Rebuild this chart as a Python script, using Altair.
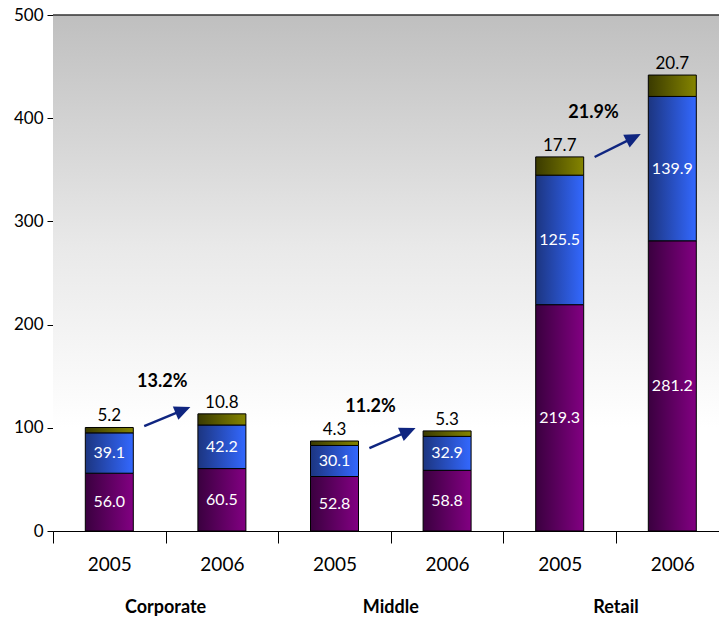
import altair as alt
import pandas as pd
import numpy as np

# ---- data ----
groups = ["Corporate", "Middle", "Retail"]
years = ["2005", "2006"]
purple_vals = [56.0, 60.5, 52.8, 58.8, 219.3, 281.2]
blue_vals = [39.1, 42.2, 30.1, 32.9, 125.5, 139.9]
olive_vals = [5.2, 10.8, 4.3, 5.3, 17.7, 20.7]
growth_labels = ["13.2%", "11.2%", "21.9%"]
# annotation anchors (data units: bar index / value)
growth_label_x = [0.47, 2.32, 4.30]
growth_label_y = [144, 120, 405]
arrow_y_start = [101.7, 80.4, 362.4]
arrow_y_end = [120.2, 99.8, 384.7]

# ---- layout ----
PLOT_W = 666
PLOT_H = 516
SPAN = 675.6          # six bands continue a little past the right edge
FONT = "Lato"

keys = [f"{g} {y}" for g in groups for y in years]
df = pd.DataFrame({
    "key": keys,
    "purple": purple_vals,
    "blue": blue_vals,
    "olive": olive_vals,
})
df["zero"] = 0.0
df["p_top"] = df["purple"]
df["b_top"] = df["purple"] + df["blue"]
df["o_top"] = df["b_top"] + df["olive"]
df["p_mid"] = df["purple"] / 2
df["b_mid"] = df["purple"] + df["blue"] / 2
df["p_txt"] = df["purple"].map(lambda v: f"{v:.1f}")
df["b_txt"] = df["blue"].map(lambda v: f"{v:.1f}")
df["o_txt"] = df["olive"].map(lambda v: f"{v:.1f}")

px_x = SPAN / 6
px_y = PLOT_H / 500
xs = [2 * i + 0.31 for i in range(3)]
xe = [2 * i + 1 - 0.28 for i in range(3)]
dxp = (np.array(xe) - np.array(xs)) * px_x
dyp = (np.array(arrow_y_end) - np.array(arrow_y_start)) * px_y
ang = np.degrees(np.arctan2(dyp, dxp))
length = np.hypot(dxp, dyp)
shrink = 12.0
xl = np.array(xe) - (dxp / length) * shrink / px_x
yl = np.array(arrow_y_end) - (dyp / length) * shrink / px_y
ann = pd.DataFrame({
    "label": growth_labels,
    "lx": growth_label_x,
    "ly": growth_label_y,
    "xs": xs, "ys": arrow_y_start,
    "xe": xe, "ye": arrow_y_end,
    "xl": xl, "yl": yl,
    "angle": (360 - ang) % 360,
})
grp = pd.DataFrame({"group": groups, "gx": [2 * i + 0.5 for i in range(3)]})

# ---- scales / axes ----
y_scale = alt.Scale(domain=[0, 500], nice=False, zero=True)
y_axis = alt.Axis(values=[0, 100, 200, 300, 400, 500], title=None, grid=False,
                  tickSize=6, tickColor="black", domainColor="black",
                  labelFont=FONT, labelFontSize=17, labelColor="black",
                  labelPadding=4)
x_band = alt.Scale(domain=keys, range=[0, SPAN], paddingInner=0, paddingOuter=0)
x_axis = alt.Axis(title=None, labelExpr="split(datum.label, ' ')[1]", labelAngle=0,
                  tickBand="extent", tickSize=12, tickColor="black",
                  domainColor="black", labelFont=FONT, labelFontSize=19,
                  labelColor="black", labelPadding=12, labelBaseline="top")
X = alt.X("key:N", scale=x_band, axis=x_axis, sort=keys)
xq_scale = alt.Scale(domain=[-0.5, 5.5], range=[0, SPAN], nice=False, zero=False)


def grad(dark, light):
    return alt.LinearGradient(
        gradient="linear", x1=0, y1=0, x2=1, y2=0,
        stops=[alt.GradientStop(color=dark, offset=0),
               alt.GradientStop(color=light, offset=1)])


bg = alt.Chart(pd.DataFrame({"a": [0]})).mark_rect(
    color=alt.LinearGradient(
        gradient="linear", x1=0, y1=0, x2=0, y2=1,
        stops=[alt.GradientStop(color="#bfbfbf", offset=0),
               alt.GradientStop(color="#e9e9e9", offset=0.45),
               alt.GradientStop(color="#ffffff", offset=0.8)])
).encode(x=alt.value(0), x2=alt.value(SPAN), y=alt.value(0), y2=alt.value(PLOT_H))

base = alt.Chart(df)
bar_kw = dict(size=48, stroke="black", strokeWidth=1)
purple_bar = base.mark_bar(color=grad("#3a003f", "#820082"), **bar_kw).encode(
    x=X, y=alt.Y("zero:Q", scale=y_scale, axis=y_axis), y2="p_top:Q")
blue_bar = base.mark_bar(color=grad("#1c3580", "#3368ff"), **bar_kw).encode(
    x=X, y=alt.Y("p_top:Q", scale=y_scale, axis=y_axis), y2="b_top:Q")
olive_bar = base.mark_bar(color=grad("#3a3a00", "#858500"), **bar_kw).encode(
    x=X, y=alt.Y("b_top:Q", scale=y_scale, axis=y_axis), y2="o_top:Q")

txt_kw = dict(font=FONT, fontSize=16, color="white", baseline="middle", align="center")
p_text = base.mark_text(**txt_kw).encode(
    x=X, y=alt.Y("p_mid:Q", scale=y_scale, axis=y_axis), text="p_txt:N")
b_text = base.mark_text(**txt_kw).encode(
    x=X, y=alt.Y("b_mid:Q", scale=y_scale, axis=y_axis), text="b_txt:N")
o_text = base.mark_text(font=FONT, fontSize=17, color="black", baseline="bottom",
                        align="center", dy=-2).encode(
    x=X, y=alt.Y("o_top:Q", scale=y_scale, axis=y_axis), text="o_txt:N")

bars = alt.layer(purple_bar, blue_bar, olive_bar, p_text, b_text, o_text)

abase = alt.Chart(ann)
XQ = lambda f: alt.X(f, scale=xq_scale, axis=None)
YQ = lambda f: alt.Y(f, scale=y_scale, axis=y_axis)
arrow_line = abase.mark_rule(color="#0f2580", strokeWidth=2.5).encode(
    x=XQ("xs:Q"), y=YQ("ys:Q"), x2="xl:Q", y2="yl:Q")
arrow_head = abase.mark_point(
    shape="M0,0L-2,-0.9L-2,0.9Z", filled=True, color="#0f2580", opacity=1,
    size=256, strokeWidth=0).encode(
    x=XQ("xe:Q"), y=YQ("ye:Q"), angle=alt.Angle("angle:Q", scale=None))
growth_text = abase.mark_text(font=FONT, fontSize=18, fontWeight="bold",
                              color="black", align="center", baseline="middle").encode(
    x=XQ("lx:Q"), y=YQ("ly:Q"), text="label:N")
group_text = alt.Chart(grp).mark_text(font=FONT, fontSize=18, fontWeight="bold",
                                      color="black", align="center",
                                      baseline="middle").encode(
    x=XQ("gx:Q"), y=alt.value(PLOT_H + 77), text="group:N")
top_line = alt.Chart(pd.DataFrame({"a": [0]})).mark_rule(
    color="#333333", strokeWidth=1.5).encode(
    x=alt.value(0), x2=alt.value(SPAN), y=alt.value(0))

annots = alt.layer(arrow_line, arrow_head, growth_text, group_text)

chart = alt.layer(bg, bars, annots, top_line).resolve_scale(x="independent").properties(
    width=PLOT_W, height=PLOT_H,
    autosize=alt.AutoSizeParams(type="none"),
    padding={"left": 53, "top": 15, "right": 0, "bottom": 88},
    background="white",
).configure_view(stroke=None)

chart.save("out.html", embed_options={"renderer": "svg", "actions": False})
